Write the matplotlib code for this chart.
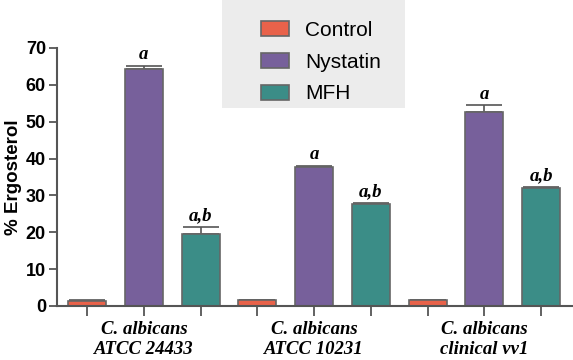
import matplotlib.pyplot as plt
from matplotlib.patches import Rectangle
import numpy as np

strains = ["C. albicans\nATCC 24433", "C. albicans\nATCC 10231", "C. albicans\nclinical vv1"]
treatments = ["Control", "Nystatin", "MFH"]
control = [1.3, 1.6, 1.5]
nystatin = [64.3, 37.8, 52.6]
mfh = [19.6, 27.7, 32.0]
control_err = [0.2, 0.1, 0.2]
nystatin_err = [0.9, 0.3, 1.8]
mfh_err = [1.9, 0.3, 0.3]
letters_nys = ["a", "a", "a"]
letters_mfh = ["a,b", "a,b", "a,b"]

colors = ["#e8624a", "#77609b", "#3b8d87"]
edge = "#666666"

fig = plt.figure(figsize=(5.73, 3.6), dpi=100)
ax = fig.add_axes([0.0995, 0.15, 0.9005, 0.7167])

values = [control, nystatin, mfh]
errs = [control_err, nystatin_err, mfh_err]
n = len(treatments)
for i, (vals, err) in enumerate(zip(values, errs)):
    x = np.arange(len(strains)) * n + i
    ax.bar(x, vals, 0.67, color=colors[i], edgecolor=edge, linewidth=1.2,
           label=treatments[i], zorder=2)
    ax.errorbar(x, vals, yerr=[np.zeros(len(err)), err], fmt="none",
                ecolor="#555555", elinewidth=1.2, capsize=13, capthick=1.2, zorder=1)

# significance letters
for j in range(len(strains)):
    ax.text(j * n + 1, nystatin[j] + nystatin_err[j] + 0.8, letters_nys[j],
            ha="center", va="bottom", family="Liberation Serif",
            fontweight="bold", fontstyle="italic", fontsize=13.5)
    ax.text(j * n + 2, mfh[j] + mfh_err[j] + 0.8, letters_mfh[j],
            ha="center", va="bottom", family="Liberation Serif",
            fontweight="bold", fontstyle="italic", fontsize=13.5)

ax.set_xlim(-0.53, 8.56)
ax.set_ylim(0, 70)
ax.set_xticks(np.arange(len(strains) * n))
ax.set_xticklabels([])
for j, s in enumerate(strains):
    ax.text(j * n + 1, -4.2, s, ha="center", va="top", family="Liberation Serif",
            fontweight="bold", fontstyle="italic", fontsize=13.5, linespacing=1.2)

ax.set_yticks(range(0, 71, 10))
ax.tick_params(axis="y", labelsize=13, length=6, width=1.3, color="#555555", pad=2)
ax.tick_params(axis="x", length=7, width=1.3, color="#555555")
for lab in ax.get_yticklabels():
    lab.set_fontweight("bold")
    lab.set_family("Liberation Sans")
ax.set_ylabel("% Ergosterol", family="Liberation Sans", fontweight="bold",
              fontsize=13.5, labelpad=3)
for side in ["top", "right"]:
    ax.spines[side].set_visible(False)
for side in ["left", "bottom"]:
    ax.spines[side].set_color("#555555")
    ax.spines[side].set_linewidth(1.5)

# legend panel
fig.patches.append(Rectangle((0.387, 0.70), 0.32, 0.30, transform=fig.transFigure,
                             facecolor="#ececec", edgecolor="none", zorder=0))
leg = fig.legend(loc="upper left", bbox_to_anchor=(0.444, 0.96), frameon=False,
                 prop={"family": "Liberation Sans", "size": 15},
                 handlelength=1.35, handleheight=0.75, labelspacing=0.62,
                 borderpad=0.3, borderaxespad=0, handletextpad=0.8)
for h in leg.legend_handles:
    h.set_edgecolor(edge)
    h.set_linewidth(1.2)

fig.savefig("out.png", dpi=100)
